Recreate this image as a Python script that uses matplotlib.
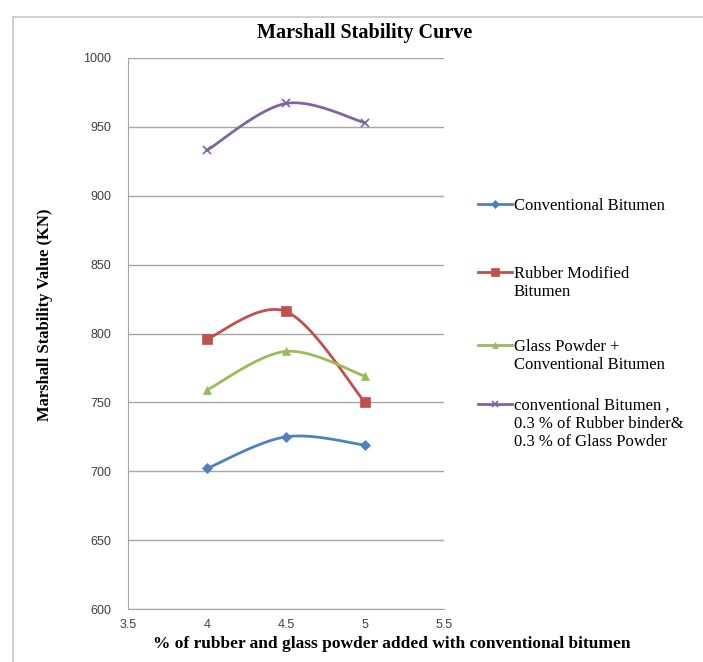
import numpy as np
import matplotlib
matplotlib.use("Agg")
from matplotlib import pyplot as plt
from matplotlib.lines import Line2D
from matplotlib.patches import Rectangle

# data
x_pct = [4, 4.5, 5]
conventional = [702, 725, 719]
rubber_mod = [796, 816, 750]
glass_conv = [759, 787, 769]
combined = [933, 967, 953]

labels = ["Conventional Bitumen",
          "Rubber Modified\nBitumen",
          "Glass Powder +\nConventional Bitumen",
          "conventional Bitumen ,\n0.3 % of Rubber binder&\n0.3 % of Glass Powder"]
colors = ["#4F81BD", "#C0504D", "#9BBB59", "#8064A2"]
markers = ["D", "s", "^", "x"]
msizes = [5, 7, 6, 6]

serif = ["Liberation Serif", "DejaVu Serif"]
sans = ["Liberation Sans", "DejaVu Sans"]


def smooth(xs, ys, n=40):
    # catmull-rom through the points, like excel "smoothed line"
    xs = np.asarray(xs, float); ys = np.asarray(ys, float)
    px = np.concatenate([[xs[0]], xs, [xs[-1]]])
    py = np.concatenate([[ys[0]], ys, [ys[-1]]])
    ox, oy = [], []
    for i in range(1, len(px) - 2):
        t = np.linspace(0, 1, n)
        p0x, p1x, p2x, p3x = px[i-1:i+3]
        p0y, p1y, p2y, p3y = py[i-1:i+3]
        # bezier controls
        c1x = p1x + (p2x - p0x) / 6; c1y = p1y + (p2y - p0y) / 6
        c2x = p2x - (p3x - p1x) / 6; c2y = p2y - (p3y - p1y) / 6
        bx = (1-t)**3*p1x + 3*(1-t)**2*t*c1x + 3*(1-t)*t**2*c2x + t**3*p2x
        by = (1-t)**3*p1y + 3*(1-t)**2*t*c1y + 3*(1-t)*t**2*c2y + t**3*p2y
        ox.extend(bx); oy.extend(by)
    return np.array(ox), np.array(oy)


W, H = 703, 662
fig = plt.figure(figsize=(W/100, H/100), dpi=100)
fig.patches.append(Rectangle((13/W, -0.1), 1.2, 1 - 17/H + 0.1,
                             transform=fig.transFigure, fill=False,
                             edgecolor="#c8c8c8", lw=1.2))
ax = fig.add_axes([128/W, 1 - 609/H, (444-128)/W, (609-58)/H])

series = [conventional, rubber_mod, glass_conv, combined]
for ys, c, m, ms in zip(series, colors, markers, msizes):
    sx, sy = smooth(x_pct, ys)
    ax.plot(sx, sy, color=c, lw=2, zorder=3)
    ax.plot(x_pct, ys, ls="none", marker=m, color=c, ms=ms,
            mew=1.2 if m == "x" else 0.5, zorder=4)

ax.set_xlim(3.5, 5.5)
ax.set_ylim(600, 1000)
ax.set_xticks([3.5, 4, 4.5, 5, 5.5])
ax.set_xticklabels(["3.5", "4", "4.5", "5", "5.5"])
ax.set_yticks(np.arange(600, 1001, 50))
ax.yaxis.grid(True, color="#a6a6a6", lw=1)
ax.set_axisbelow(True)
for s in ["top", "right"]:
    ax.spines[s].set_visible(False)
for s in ["left", "bottom"]:
    ax.spines[s].set_color("#a6a6a6")
ax.tick_params(length=0, labelsize=9, colors="#404040")
ax.tick_params(axis="y", pad=12)
ax.tick_params(axis="x", pad=7)
for t in ax.get_xticklabels() + ax.get_yticklabels():
    t.set_family(sans)

fig.text(45/W, 1 - 315/H, "Marshall Stability Value (KN)", family=serif,
         fontweight="bold", fontsize=12, rotation=90,
         ha="center", va="center")
fig.text(392/W, 1 - 644/H,
         "% of rubber and glass powder added with conventional bitumen",
         family=serif, fontweight="bold", fontsize=12.5,
         ha="center", va="center")
fig.text(365/W, 1 - 33/H, "Marshall Stability Curve", family=serif,
         fontweight="bold", fontsize=14.5, ha="center", va="center")

# legend drawn by hand: handle sits on the first text line, like excel
leg_y = [204, 272, 345, 404]
for lab, c, m, ms, yy in zip(labels, colors, markers, msizes, leg_y):
    yf = 1 - yy / H
    fig.add_artist(Line2D([478/W, 512/W], [yf, yf], color=c, lw=2,
                          transform=fig.transFigure))
    fig.add_artist(Line2D([495/W], [yf], color=c, marker=m, ms=ms * 0.8,
                          mew=1.2 if m == "x" else 0.5, ls="none",
                          transform=fig.transFigure))
    for k, line in enumerate(lab.split("\n")):
        fig.text(514/W, 1 - (yy + 18 * k) / H, line, family=serif,
                 fontsize=12, ha="left", va="center_baseline")

fig.savefig("out.png", dpi=100)
